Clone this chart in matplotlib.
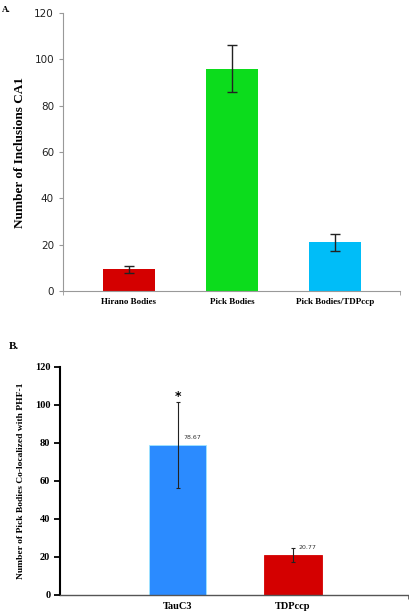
import numpy as np
import matplotlib
matplotlib.use('Agg')
import matplotlib.pyplot as plt

# panel A data
catA = ['Hirano Bodies', 'Pick Bodies', 'Pick Bodies/TDPccp']
valA = [9.3, 96.0, 21.0]
errA = [1.6, 10.2, 3.7]
colA = ['#d40000', '#0cdc1c', '#00bdf8']

# panel B data
catB = ['TauC3', 'TDPccp']
valB = [78.67, 20.77]
errB = [22.6, 3.8]
colB = ['#2b8bff', '#d40000']
lblB = ['78.67', '20.77']

serif = 'Liberation Serif'

fig = plt.figure(figsize=(4.1, 6.14), dpi=100)

# ---------------- panel A
ax = fig.add_axes([0.1537, 0.526, 0.8219, 0.4528])
xa = np.arange(len(catA))
ax.bar(xa, valA, width=0.5, color=colA)
ax.errorbar(xa, valA, yerr=errA, fmt='none', ecolor='#222222', elinewidth=1, capsize=3.6, capthick=1)
ax.set_xlim(-0.64, 2.63)
ax.set_ylim(0, 120)
ax.set_yticks(range(0, 121, 20))
ax.set_xticks(xa)
ax.set_xticklabels(catA, fontfamily=serif, fontweight='bold', fontsize=6.5)
ax.set_xticks([-0.64, 2.63], minor=True)
ax.tick_params(axis='x', which='major', length=0, pad=5)
ax.tick_params(axis='x', which='minor', length=3, color='#999999')
ax.tick_params(axis='y', length=3, color='#999999', labelsize=7.5, labelcolor='#222222')
for s in ['top', 'right']:
    ax.spines[s].set_visible(False)
for s in ['left', 'bottom']:
    ax.spines[s].set_color('#999999')
    ax.spines[s].set_linewidth(0.8)
ax.set_ylabel('Number of Inclusions CA1', fontfamily=serif, fontweight='bold', fontsize=9.5, labelpad=6)
fig.text(0.005, 0.99, 'A.', fontfamily=serif, fontweight='bold', fontsize=6.5, va='top')

# ---------------- panel B
bx = fig.add_axes([0.1463, 0.0314, 0.8487, 0.3714])
xb = np.arange(len(catB))
bx.bar(xb, valB, width=0.5, color=colB, edgecolor=['#9fe6ff', '#d40000'], linewidth=0.6)
bx.errorbar(xb, valB, yerr=errB, fmt='none', ecolor='#222222', elinewidth=0.8, capsize=1.5, capthick=0.8)
for i in range(len(catB)):
    bx.text(xb[i] + 0.05, valB[i] + 4, lblB[i], fontsize=4.5, color='#333333', va='center')
bx.text(xb[0], valB[0] + errB[0] + 3, '*', fontsize=9, fontweight='bold', ha='center', va='center')
bx.set_xlim(-1.02, 2.0)
bx.set_ylim(0, 120)
bx.set_yticks(range(0, 121, 20))
bx.set_yticklabels([str(v) for v in range(0, 121, 20)], fontfamily=serif, fontweight='bold', fontsize=7.5)
bx.set_xticks(xb)
bx.set_xticklabels(catB, fontfamily=serif, fontweight='bold', fontsize=7.5)
bx.set_xticks([2.0], minor=True)
bx.tick_params(axis='x', which='major', length=0, pad=5)
bx.tick_params(axis='x', which='minor', length=3, color='#555555')
bx.tick_params(axis='y', length=4, width=1.3, pad=3)
for s in ['top', 'right']:
    bx.spines[s].set_visible(False)
bx.spines['left'].set_linewidth(1.5)
bx.spines['bottom'].set_linewidth(1.0)
bx.spines['bottom'].set_color('#555555')
bx.set_ylabel('Number of Pick Bodies Co-localized with PHF-1', fontfamily=serif, fontweight='bold', fontsize=6.8, labelpad=7)
fig.text(0.022, 0.435, 'B.', fontfamily=serif, fontweight='bold', fontsize=8, va='center')

fig.savefig('out.png', dpi=100)
